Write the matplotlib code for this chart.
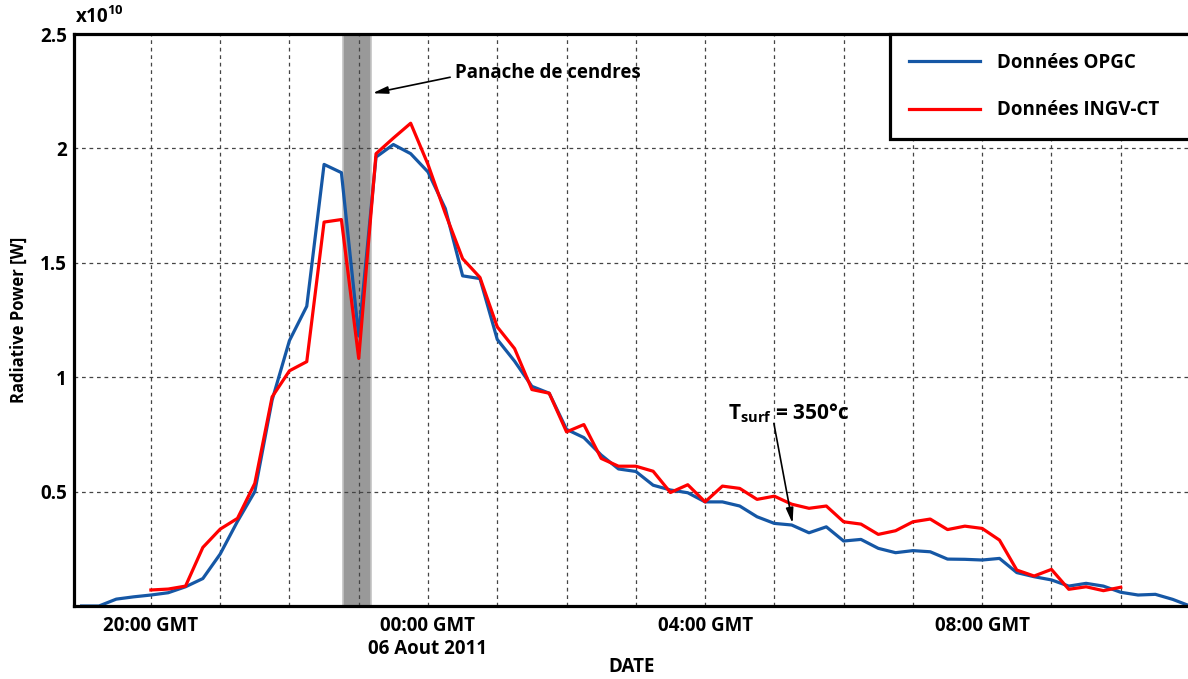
import matplotlib
matplotlib.use("Agg")
import matplotlib.pyplot as plt
import numpy

plt.rcParams["font.family"] = ["Open Sans", "DejaVu Sans"]
plt.rcParams["font.weight"] = "bold"
plt.rcParams["mathtext.fontset"] = "custom"
plt.rcParams["mathtext.rm"] = "Open Sans:bold"
plt.rcParams["mathtext.it"] = "Open Sans:bold"
plt.rcParams["mathtext.bf"] = "Open Sans:bold"

# radiative power in units of 1e10 W, one sample every 15 minutes
# time axis in hours counted from 05 Aug 2011 00:00 GMT (24 = midnight)
opgcStart = 19.0
opgcPower = [
    0.0, 0.0, 0.03, 0.04, 0.048, 0.058, 0.084, 0.12,
    0.227, 0.37, 0.50, 0.90, 1.16, 1.31, 1.93, 1.894,
    1.18, 1.962, 2.017, 1.977, 1.897, 1.737, 1.443, 1.431,
    1.165, 1.07, 0.96, 0.93, 0.772, 0.736, 0.66, 0.599,
    0.588, 0.528, 0.507, 0.495, 0.455, 0.455, 0.437, 0.39,
    0.361, 0.354, 0.32, 0.346, 0.284, 0.291, 0.252, 0.233,
    0.242, 0.237, 0.205, 0.204, 0.201, 0.208, 0.146, 0.128,
    0.114, 0.087, 0.099, 0.087, 0.06, 0.048, 0.051, 0.029,
    0.0,
]
ingvStart = 20.0
ingvPower = [
    0.07, 0.074, 0.087, 0.256, 0.336, 0.383, 0.536, 0.914,
    1.028, 1.068, 1.678, 1.689, 1.082, 1.977, 2.045, 2.11,
    1.93, 1.716, 1.518, 1.436, 1.22, 1.125, 0.946, 0.93,
    0.761, 0.793, 0.645, 0.611, 0.611, 0.589, 0.496, 0.53,
    0.455, 0.524, 0.514, 0.466, 0.48, 0.445, 0.427, 0.437,
    0.368, 0.358, 0.313, 0.329, 0.368, 0.38, 0.334, 0.349,
    0.339, 0.288, 0.157, 0.131, 0.16, 0.073, 0.084, 0.067,
    0.082,
]
step = 0.25
opgcTime = opgcStart + step * numpy.arange(len(opgcPower))
ingvTime = ingvStart + step * numpy.arange(len(ingvPower))

plumeStart, plumeEnd = 22.77, 23.18
tickHours = [20, 24, 28, 32]
tickLabels = ["20:00 GMT", "00:00 GMT\n06 Aout 2011", "04:00 GMT", "08:00 GMT"]
yTicks = [0.5, 1, 1.5, 2, 2.5]
yTickLabels = ["0.5", "1", "1.5", "2", "2.5"]

W, H = 1188, 679
figure = plt.figure(figsize=(W / 100, H / 100), dpi=100)
axes = figure.add_axes([74 / W, 73 / H, 1116 / W, 572 / H])

axes.axvspan(plumeStart, plumeEnd, facecolor="#999999", edgecolor="#c4c4c4", linewidth=1.2, zorder=1)
opgcLine, = axes.plot(opgcTime, opgcPower, color="#1557a5", linewidth=2.3, zorder=3, label="Données OPGC")
ingvLine, = axes.plot(ingvTime, ingvPower, color="#ff0000", linewidth=2.3, zorder=4, label="Données INGV-CT")

axes.set_xlim(18.89, 35.0)
axes.set_ylim(0, 2.5)
axes.set_xticks(tickHours)
axes.set_xticklabels(tickLabels)
axes.set_xticks([h for h in range(21, 35) if h not in tickHours], minor=True)
axes.set_yticks(yTicks)
axes.set_yticklabels(yTickLabels)
axes.tick_params(axis="both", which="both", length=0, labelsize=13.5)
axes.tick_params(axis="x", pad=7)
axes.tick_params(axis="y", pad=5)
axes.grid(True, which="both", color="#444444", linestyle=(0, (3, 3)), linewidth=0.9, zorder=2)
axes.set_axisbelow(False)
for line in axes.get_xgridlines() + axes.get_ygridlines():
    line.set_zorder(2)

for side in ["left", "top", "bottom"]:
    axes.spines[side].set_linewidth(2.3)
    axes.spines[side].set_zorder(6)
axes.spines["right"].set_visible(False)

axes.set_xlabel("DATE", fontsize=13.5, fontweight="bold", labelpad=-1.5)
axes.set_ylabel("Radiative Power [W]", fontsize=12, fontweight="bold", labelpad=9)
figure.text(75 / W, 1 - 17 / H, r"x10$^{10}$", fontsize=13.5, fontweight="bold", va="center", ha="left")

# ash plume marker and surface temperature note
axes.annotate("", xy=(23.20, 2.241), xytext=(24.32, 2.311),
              arrowprops=dict(arrowstyle="-|>,head_length=0.9,head_width=0.22", color="black", lw=1.2, shrinkA=0, shrinkB=0), zorder=7)
axes.text(24.39, 2.328, "Panache de cendres", fontsize=13.5, fontweight="bold", ha="left", va="center", zorder=7)
axes.annotate("", xy=(29.263, 0.361), xytext=(28.993, 0.798),
              arrowprops=dict(arrowstyle="-|>,head_length=0.9,head_width=0.22", color="black", lw=1.2, shrinkA=0, shrinkB=0), zorder=7)
axes.text(28.33, 0.843, r"T$_{surf}$ = 350°c", fontsize=15, fontweight="bold", ha="left", va="center", zorder=7)

legend = axes.legend(handles=[opgcLine, ingvLine], loc="upper left",
                     bbox_to_anchor=(890 / W, 1 - 34 / H, 320 / W, 0), bbox_transform=figure.transFigure,
                     mode="expand", borderaxespad=0, fancybox=False, framealpha=1, edgecolor="black",
                     prop={"size": 13.5, "weight": "bold"}, borderpad=1.0, labelspacing=1.47,
                     handlelength=3.8, handletextpad=0.9)
legend.get_frame().set_linewidth(2.3)
legend.set_zorder(8)

figure.savefig("out.png", dpi=100)
